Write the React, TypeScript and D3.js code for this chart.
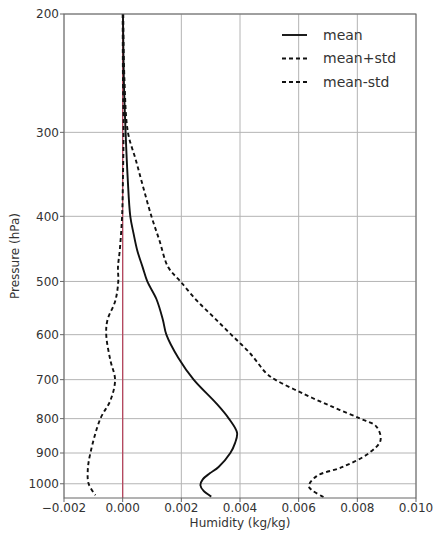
import React from "react";
import * as d3 from "d3";

const xTicks = [-0.002, 0.0, 0.002, 0.004, 0.006, 0.008, 0.01];
const yTicks = [200, 300, 400, 500, 600, 700, 800, 900, 1000];

const meanP = [200, 250, 300, 350, 400, 424, 450, 476, 500, 531, 570, 600, 650, 700, 760, 800, 840, 870, 900, 944, 965, 985, 1005, 1025, 1045];
const meanQ = [0.00001, 0.00004, 0.0001, 0.00017, 0.00026, 0.00037, 0.0005, 0.00068, 0.00084, 0.00115, 0.00137, 0.00149, 0.0019, 0.00242, 0.0032, 0.00362, 0.0039, 0.00383, 0.00367, 0.00327, 0.00297, 0.00273, 0.00265, 0.00276, 0.00302];

const plusP = [200, 250, 300, 330, 362, 400, 434, 476, 500, 534, 565, 600, 640, 685, 700, 736, 770, 800, 822, 862, 900, 944, 975, 1010, 1050];
const plusQ = [0.00002, 0.00006, 0.00018, 0.00045, 0.0007, 0.00098, 0.00125, 0.00155, 0.00197, 0.00253, 0.0031, 0.0037, 0.00435, 0.0049, 0.0052, 0.0062, 0.0072, 0.0081, 0.00865, 0.00879, 0.0084, 0.0075, 0.0066, 0.00635, 0.00692];

const minusP = [200, 250, 300, 350, 400, 450, 476, 500, 534, 571, 600, 655, 700, 752, 800, 900, 955, 1000, 1040];
const minusQ = [0.0, 0.00001, 0.00003, 0.00001, -0.00002, -0.0001, -0.00016, -0.00015, -0.00025, -0.00052, -0.00056, -0.00042, -0.00026, -0.00042, -0.00076, -0.0011, -0.00119, -0.00116, -0.00093];

const legendLabels = ["mean", "mean+std", "mean-std"];

const W = 434;
const H = 534;
const left = 64;
const right = 416;
const top = 14;
const bottom = 498;

export default function App() {
  const x = d3.scaleLinear().domain([-0.002, 0.01]).range([left, right]);
  const y = d3.scaleLog().domain([200, 1050]).range([top, bottom]);
  const line = d3
    .line<[number, number]>()
    .x((d) => x(d[1]))
    .y((d) => y(d[0]))
    .curve(d3.curveCatmullRom.alpha(0.5));
  const zip = (p: number[], q: number[]) => p.map((v, i) => [v, q[i]] as [number, number]);
  const fmt = (v: number) => (v < 0 ? "\u2212" : "") + Math.abs(v).toFixed(3);
  const font = "'DejaVu Sans', sans-serif";
  const dash = "4,3";
  const styles = [
    { dash: undefined as string | undefined },
    { dash },
    { dash },
  ];
  return (
    <svg width={W} height={H} style={{ position: "absolute", left: 0, top: 0, background: "#fff" }} fontFamily={font}>
      <rect x={0} y={0} width={W} height={H} fill="#fff" />
      {xTicks.map((t) => (
        <line key={"gx" + t} x1={x(t)} x2={x(t)} y1={top} y2={bottom} stroke="#b4b4b4" strokeWidth={1} />
      ))}
      {yTicks.map((t) => (
        <line key={"gy" + t} x1={left} x2={right} y1={y(t)} y2={y(t)} stroke="#b4b4b4" strokeWidth={1} />
      ))}
      <line x1={x(0)} x2={x(0)} y1={top} y2={bottom} stroke="#b5475e" strokeWidth={1.3} />
      <path d={line(zip(meanP, meanQ)) || ""} fill="none" stroke="#111" strokeWidth={1.9} />
      <path d={line(zip(plusP, plusQ)) || ""} fill="none" stroke="#111" strokeWidth={1.9} strokeDasharray={dash} />
      <path d={line(zip(minusP, minusQ)) || ""} fill="none" stroke="#111" strokeWidth={1.9} strokeDasharray={dash} />
      <rect x={left} y={top} width={right - left} height={bottom - top} fill="none" stroke="#666" strokeWidth={1} />
      {yTicks.map((t) => (
        <g key={"ty" + t}>
          <line x1={left - 4} x2={left} y1={y(t)} y2={y(t)} stroke="#666" />
          <text x={left - 5} y={y(t)} dy="0.35em" textAnchor="end" fontSize={12} fill="#333">
            {t}
          </text>
        </g>
      ))}
      {xTicks.map((t) => (
        <g key={"tx" + t}>
          <line x1={x(t)} x2={x(t)} y1={bottom} y2={bottom + 4} stroke="#666" />
          <text x={x(t)} y={bottom + 14} textAnchor="middle" fontSize={12} fill="#333">
            {fmt(t)}
          </text>
        </g>
      ))}
      <text x={(left + right) / 2} y={527} textAnchor="middle" fontSize={12} fill="#333">
        Humidity (kg/kg)
      </text>
      <text
        transform={`translate(19,${(top + bottom) / 2}) rotate(-90)`}
        textAnchor="middle"
        fontSize={12}
        fill="#333"
      >
        Pressure (hPa)
      </text>
      {legendLabels.map((l, i) => (
        <g key={l} transform={`translate(0,${35 + i * 23.5})`}>
          <line x1={282} x2={307} y1={0} y2={0} stroke="#111" strokeWidth={1.9} strokeDasharray={styles[i].dash} />
          <text x={323} y={0} dy="0.35em" fontSize={14} fill="#333">
            {l}
          </text>
        </g>
      ))}
    </svg>
  );
}
